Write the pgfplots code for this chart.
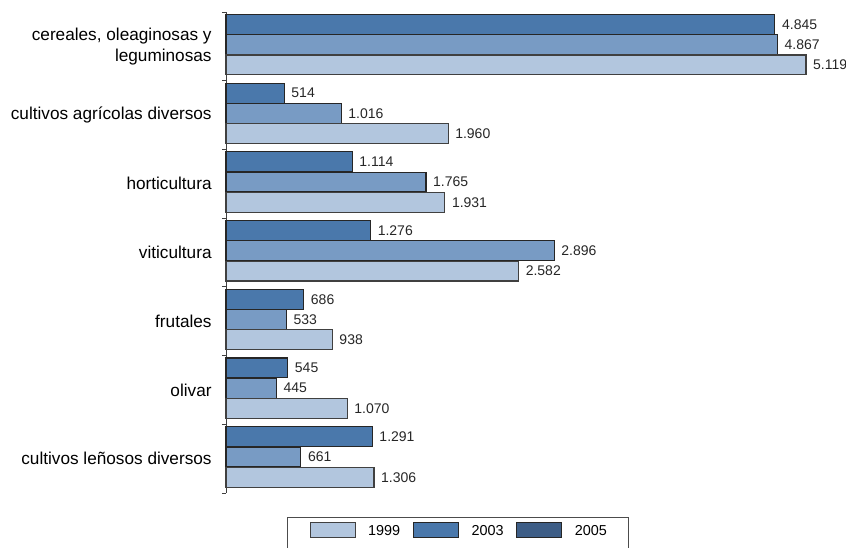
\documentclass[border=0pt]{standalone}
\usepackage{pgfplots}
\pgfplotsset{compat=1.18}
\usepackage{fontspec}
\setmainfont{Liberation Sans}

\definecolor{barTop}{HTML}{4A78AB}
\definecolor{barMid}{HTML}{789BC4}
\definecolor{barLow}{HTML}{B2C6DE}
\definecolor{leg2005}{HTML}{3E5E87}

\begin{document}
\begin{tikzpicture}
\useasboundingbox (0,0) rectangle (423pt,273.5pt);
\begin{axis}[
  at={(113pt,27pt)}, anchor=south west,
  scale only axis, width=300.25pt, height=240.5pt,
  xmin=0, xmax=5300, ymin=-0.5, ymax=6.5, y dir=reverse,
  clip=false,
  axis x line=none,
  axis y line*=left,
  axis line style={draw=black!75, line width=0.5pt},
  ytick={0,...,6},
  yticklabels={{cereales, oleaginosas y\\leguminosas}, cultivos agrícolas diversos, horticultura, viticultura, frutales, olivar, cultivos leñosos diversos},
  yticklabel style={align=right, font=\fontsize{8.6}{10.5}\selectfont, inner sep=0pt, xshift=-7pt},
  major tick length=0pt,
  minor ytick={-0.5,0.5,...,6.5},
  minor tick length=2pt,
  tick align=outside,
  every tick/.style={draw=black!75, line width=0.5pt},
  xbar, bar width=0.29, bar shift=0pt,
  nodes near coords, point meta=x,
  /pgf/number format/1000 sep={.},
  /pgf/number format/assume math mode=true,
  nodes near coords style={font=\fontsize{7}{9}\selectfont, anchor=west, text=black!85},
  legend image code/.code={\draw[#1] (0pt,-1.7pt) rectangle (22.5pt,5.8pt);},
  legend columns=3,
  legend style={at={(0.1016,-0.0499)}, anchor=north west, draw=black!70, line width=0.5pt,
    inner xsep=11pt, inner ysep=2pt, column sep=6.3pt,
    font=\fontsize{7.2}{9}\selectfont,
    nodes={inner xsep=0pt, inner ysep=0pt, text height=7pt, text depth=6pt}},
]
\addplot[forget plot, fill=barTop, draw=black!85, line width=0.55pt] coordinates {
  (4845,-0.32) (514,0.68) (1114,1.68) (1276,2.68) (686,3.68) (545,4.68) (1291,5.68)
};
\addplot[forget plot, fill=barMid, draw=black!85, line width=0.55pt] coordinates {
  (4867,-0.025) (1016,0.975) (1765,1.975) (2896,2.975) (533,3.975) (445,4.975) (661,5.975)
};
\addplot[forget plot, fill=barLow, draw=black!75, line width=0.55pt] coordinates {
  (5119,0.27) (1960,1.27) (1931,2.27) (2582,3.27) (938,4.27) (1070,5.27) (1306,6.27)
};
\addlegendimage{fill=barLow, draw=black!75, line width=0.55pt}
\addlegendentry{1999}
\addlegendimage{fill=barTop, draw=black!85, line width=0.55pt}
\addlegendentry{2003}
\addlegendimage{fill=leg2005, draw=black!85, line width=0.55pt}
\addlegendentry{2005}
\end{axis}
\end{tikzpicture}
\end{document}
